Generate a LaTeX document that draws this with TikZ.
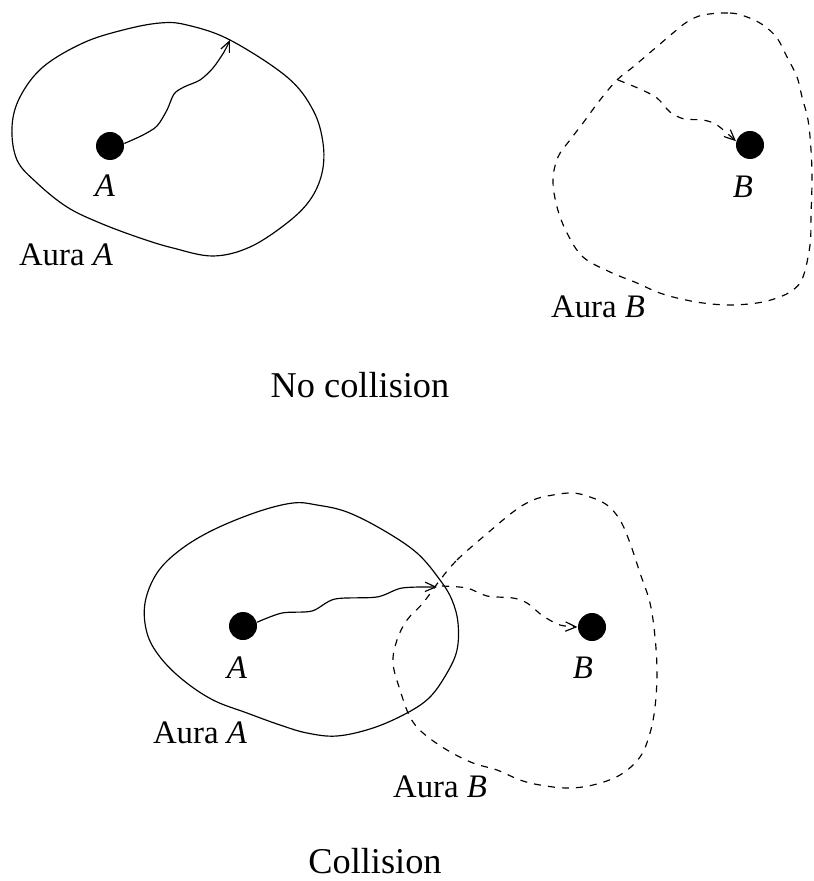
\documentclass[tikz,border=0pt]{standalone}
\usepackage{fontspec}
\setmainfont{Liberation Serif}
\usetikzlibrary{arrows.meta}
\begin{document}
\begin{tikzpicture}[x=0.03cm, y=-0.03cm, line width=1pt,
    aura/.style={draw=black},
    auradash/.style={draw=black, dash pattern=on 6pt off 6pt},
    body/.style={circle, fill=black, inner sep=0pt, minimum size=0.84cm},
    lbl/.style={inner sep=0pt, font=\fontsize{28}{30}\selectfont},
    caption/.style={inner sep=0pt, font=\fontsize{31}{34}\selectfont},
    move/.style={-{Straight Barb[length=9pt, width=8pt]}}]
  \useasboundingbox (0,0) rectangle (813,881);
  % no collision
  \node[body] (dotA) at (110,146) {};
  \node[body] (dotB) at (750,145) {};
  \node[lbl] (labA) at (105,186) {\textit{A}};
  \node[lbl] (labB) at (743,187) {\textit{B}};
  \node[lbl] (auraA) at (66,255) {Aura \textit{A}};
  \node[lbl] (auraB) at (598,307) {Aura \textit{B}};
  \node[caption] (nocoll) at (360,385) {No collision};
  \coordinate (hitA) at (230,40);
  \coordinate (startB) at (618,80);
  \draw[aura] plot[smooth cycle, tension=0.6] coordinates {
      (160,23) (187,25) (230,40) (287,77) (313,110) (323,143) (322,173)
      (310,200) (287,223) (250,247) (213,256) (173,248) (140,238) (100,223)
      (67,207) (37,183) (17,160) (12,127) (20,97) (43,67) (83,43) (123,30)};
  \draw[auradash] plot[smooth cycle, tension=0.6] coordinates {
      (703,15) (730,13) (747,17) (763,25) (777,38) (787,57) (797,77) (802,97)
      (808,120) (811,150) (812,180) (811,215) (810,245) (803,277) (793,290)
      (777,298) (757,303) (730,305) (703,303) (677,298) (657,292) (637,283)
      (610,272) (583,257) (567,233) (557,207) (553,180) (558,157) (570,140)
      (583,123) (600,100) (617,80) (633,67) (653,50) (673,33) (687,22)};
  \draw[move] plot[smooth, tension=0.5] coordinates {
      (dotA.10) (143,135) (157,126) (167,110) (174,94) (184,87) (200,80)
      (213,68) (224,52) (hitA)};
  \draw[move, dash pattern=on 6pt off 6pt] plot[smooth, tension=0.5] coordinates {
      (startB) (640,89) (657,98) (670,112) (684,119) (703,120) (717,125)
      (dotB.165)};
  % collision
  \node[body] (dotA2) at (243,626) {};
  \node[body] (dotB2) at (592,627) {};
  \node[lbl] (labA2) at (237,668) {\textit{A}};
  \node[lbl] (labB2) at (583,668) {\textit{B}};
  \node[lbl] (auraA2) at (200,733) {Aura \textit{A}};
  \node[lbl] (auraB2) at (440,787) {Aura \textit{B}};
  \node[caption] (coll) at (375,861) {Collision};
  \coordinate (hitA2) at (437,587);
  \coordinate (startB2) at (442,586);
  \draw[aura] plot[smooth cycle, tension=0.6] coordinates {
      (293,503) (317,505) (347,512) (383,530) (417,553) (440,580) (452,600)
      (458,623) (457,650) (447,673) (430,697) (407,713) (373,728) (337,736)
      (307,733) (280,725) (247,713) (213,700) (183,680) (160,657) (147,633)
      (145,603) (157,573) (180,550) (213,530) (257,512)};
  \draw[auradash] plot[smooth cycle, tension=0.6] coordinates {
      (440,580) (457,560) (483,537) (513,512) (533,500) (553,495) (573,493)
      (590,497) (607,505) (620,520) (630,543) (640,573) (650,603) (655,637)
      (657,673) (655,707) (650,733) (640,757) (620,775) (593,785) (567,788)
      (540,785) (520,780) (497,770) (473,763) (447,750) (423,733) (410,717)
      (400,690) (393,663) (397,640) (407,620) (423,603)};
  \draw[move] plot[smooth, tension=0.5] coordinates {
      (dotA2.15) (282,613) (312,611) (335,599) (377,597) (402,588) (hitA2)};
  \draw[move, dash pattern=on 6pt off 6pt] plot[smooth, tension=0.5] coordinates {
      (startB2) (467,588) (487,596) (513,598) (527,603) (543,616) (560,625)
      (dotB2.west)};
\end{tikzpicture}
\end{document}
